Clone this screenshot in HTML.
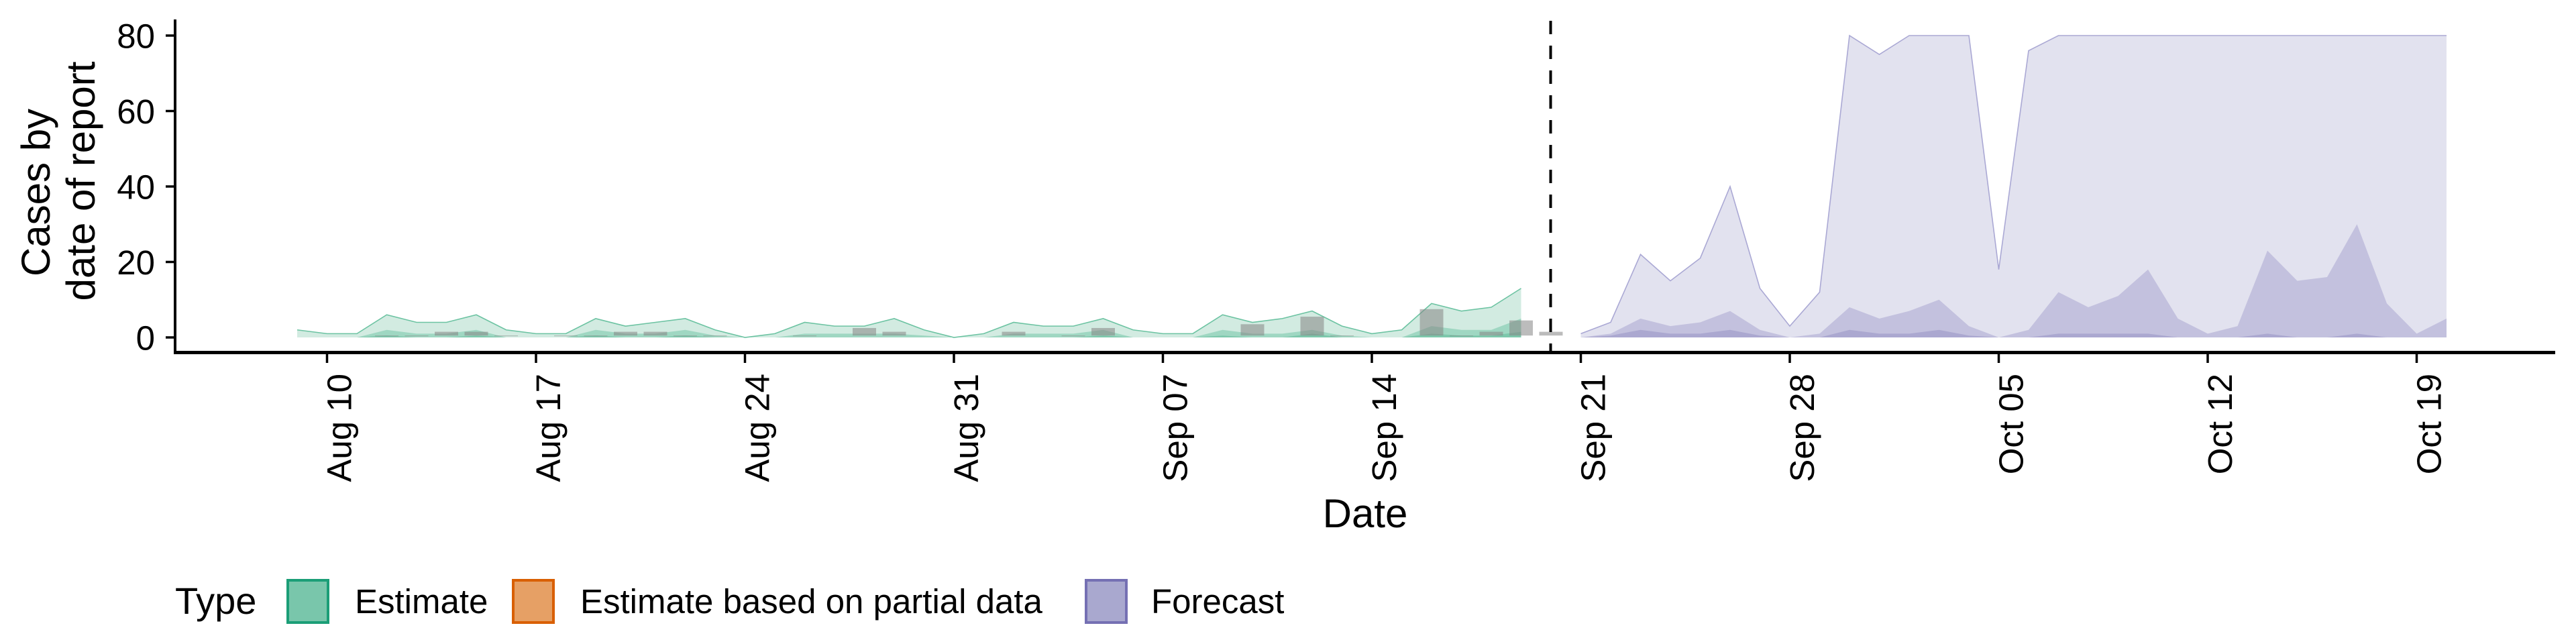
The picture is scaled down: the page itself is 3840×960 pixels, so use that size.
<!DOCTYPE html>
<html><head><meta charset="utf-8"><style>
html,body{margin:0;padding:0;background:#fff;}
svg{display:block;font-family:"Liberation Sans",Arial,sans-serif;}
</style></head><body>
<svg id="chart" width="3840" height="960" viewBox="0 0 3840 960" xmlns="http://www.w3.org/2000/svg">
<g id="marks"></g>
<g id="axes"></g>
<text transform="translate(74,287) rotate(-90)" text-anchor="middle" font-size="60">Cases by</text>
<text transform="translate(141,270) rotate(-90)" text-anchor="middle" font-size="60">date of report</text>
<text x="2035" y="786" text-anchor="middle" font-size="60">Date</text>
<g>
<text x="261" y="915" font-size="56">Type</text>
<rect x="429" y="865" width="60" height="63" fill="#79c6ab" stroke="#1b9e77" stroke-width="4"/>
<text x="529" y="914" font-size="51">Estimate</text>
<rect x="765" y="865" width="60" height="63" fill="#e6a065" stroke="#d95f02" stroke-width="4"/>
<text x="865" y="914" font-size="51">Estimate based on partial data</text>
<rect x="1619" y="865" width="60" height="63" fill="#a9a8cf" stroke="#7570b3" stroke-width="4"/>
<text x="1716" y="914" font-size="51">Forecast</text>
</g>
</svg>
<script>
// day 0 = Aug 09
const estUpper=[2,1,1,6,4,4,6,2,1,1,5,3,4,5,2,0,1,4,3,3,5,2,0,1,4,3,3,5,2,1,1,6,4,5,7,3,1,2,9,7,8,13];
const estMid=[0,0,0,2,1,1,2,0,0,0,2,1,1,2,0.5,0,0,1,1,1,1,0.5,0,0,1,1,1,2,0,0,0,2,1,1,2,0.5,0,0,3,2,2,5];
const estLow=[0,0,0,0.5,0,0,0.5,0,0,0,0.5,0,0,0.5,0,0,0,0,0,0,0,0,0,0,0,0,0,0.5,0,0,0,0.5,0,0,1,0,0,0,1,0.5,0.5,1.5];
const fcStart=43;
const fcUpper=[1,4,22,15,21,40,13,3,12,80,75,80,80,80,18,76,80,80,80,80,80,80,80,80,80,80,80,80,80,80];
const fcMid=[0,1,5,3,4,7,2,0,1,8,5,7,10,3,0,2,12,8,11,18,5,1,3,23,15,16,30,9,1,5];
const fcLow=[0,0.5,2,1,1,2,0.5,0,0,2,1,1,2,0.5,0,0,1,1,1,1,0,0,0,1,0,0,1,0,0,0];
const cases=[null,null,null,0,0,1,1,0,null,0,0,1,1,0,0,null,null,0,null,2,1,null,null,null,1,null,0,2,null,null,null,null,3,null,5,0,null,null,7,0,1,4,1];
const xTickDays=[1,8,15,22,29,36,43,50,57,64,71];
const xTickLabels=["Aug 10","Aug 17","Aug 24","Aug 31","Sep 07","Sep 14","Sep 21","Sep 28","Oct 05","Oct 12","Oct 19"];
const yTicks=[0,20,40,60,80];
const forecastDay=42;

const NS="http://www.w3.org/2000/svg";
const xs=d=>443+44.5*d;
const ys=v=>503-5.625*v;
const marks=document.getElementById('marks');
const axes=document.getElementById('axes');
function mk(tag,attrs,parent){const e=document.createElementNS(NS,tag);for(const k in attrs)e.setAttribute(k,attrs[k]);parent.appendChild(e);return e;}
function area(vals,start,fill,name,stroke){
  let pts=[];
  vals.forEach((v,i)=>pts.push(xs(start+i)+','+ys(v)));
  const top=pts.slice();
  pts.push(xs(start+vals.length-1)+','+ys(0));pts.push(xs(start)+','+ys(0));
  const p=mk('polygon',{points:pts.join(' '),fill:fill},marks);
  
  
  if(stroke){
    const l=mk('polyline',{points:top.join(' '),fill:'none',stroke:stroke,'stroke-width':1.6},marks);
    
    
  }
}
area(estUpper,0,'#d2ebe1','estimate-ribbon-90','#6cc3a2');
area(estMid,0,'#9fd7c2','estimate-ribbon-50');
area(estLow,0,'#7dc8ac','estimate-ribbon-20');
area(fcUpper,fcStart,'#e2e2ef','forecast-ribbon-90','#aaa8d4');
area(fcMid,fcStart,'#c3c1de','forecast-ribbon-50');
area(fcLow,fcStart,'#aba8d0','forecast-ribbon-20');
cases.forEach((v,i)=>{
  if(v===null)return;
  const y1=ys(v+0.5),y0=ys(0.5);
  const r=mk('rect',{x:xs(i)-17.5,y:y1,width:35,height:Math.max(1,y0-y1),fill:'#858585','fill-opacity':0.55},marks);
  
  
});
const dl=mk('line',{x1:xs(forecastDay)-0.5,x2:xs(forecastDay)-0.5,y1:31,y2:525,stroke:'#000','stroke-width':4,'stroke-dasharray':'20,17'},marks);


// axes
const ya=mk('line',{x1:261,x2:261,y1:29,y2:527,stroke:'#000','stroke-width':4},axes);


const xa=mk('line',{x1:259,x2:3809,y1:525.5,y2:525.5,stroke:'#000','stroke-width':5},axes);


yTicks.forEach(v=>{
  const t=mk('line',{x1:247,x2:261,y1:ys(v),y2:ys(v),stroke:'#000','stroke-width':3.5},axes);
  
  
  const l=mk('text',{x:231,y:ys(v)+18.5,'text-anchor':'end','font-size':51},axes);
  l.textContent=v;
  
  
});
xTickDays.forEach((d,i)=>{
  const t=mk('line',{x1:xs(d),x2:xs(d),y1:526,y2:541,stroke:'#000','stroke-width':3.5},axes);
  
  
  const l=mk('text',{transform:'translate('+(xs(d)+36)+',557) rotate(-90)','text-anchor':'end','font-size':51},axes);
  l.textContent=xTickLabels[i];
  
  
});
</script>
</body></html>
